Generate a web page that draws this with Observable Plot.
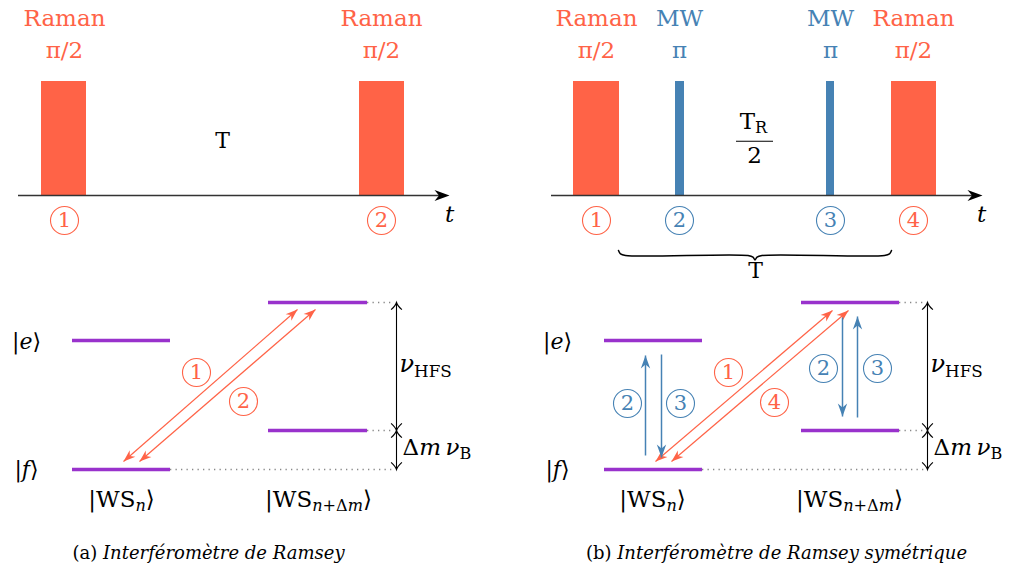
<!DOCTYPE html>
<html><head><meta charset="utf-8">
<script src="https://cdn.jsdelivr.net/npm/d3@7"></script>
<script src="https://cdn.jsdelivr.net/npm/@observablehq/plot@0.6"></script>
<style>body{margin:0;background:#fff} svg{display:block} svg text{font-family:"DejaVu Serif","Liberation Serif","Noto Serif",serif}</style>
</head><body><div id="chart"></div>
<script>
const ORANGE = "#ff6347", BLUE = "#4682b4", PURPLE = "#9932cc";

// ---- top: pulse sequences ----
const timeAxes = [{x1: 18, x2: 449, y: 195}, {x1: 551, x2: 982, y: 195}];
const ramanPulses = [{x1: 41, x2: 86}, {x1: 359, x2: 404}, {x1: 573, x2: 619}, {x1: 891, x2: 936}];
const mwPulses = [{x1: 675, x2: 684}, {x1: 826, x2: 834}];
const pulseTop = 81, pulseBase = 195;
const pulseNames = [
  {x: 64, name: "Raman", area: "π/2", c: ORANGE},
  {x: 381, name: "Raman", area: "π/2", c: ORANGE},
  {x: 596, name: "Raman", area: "π/2", c: ORANGE},
  {x: 679, name: "MW", area: "π", c: BLUE},
  {x: 830, name: "MW", area: "π", c: BLUE},
  {x: 913, name: "Raman", area: "π/2", c: ORANGE}
];
const nameY = 18, areaY = 50;
const steps = [
  {x: 64, y: 220, n: "1", c: ORANGE}, {x: 381, y: 220, n: "2", c: ORANGE},
  {x: 596, y: 220, n: "1", c: ORANGE}, {x: 679, y: 220, n: "2", c: BLUE},
  {x: 830, y: 220, n: "3", c: BLUE}, {x: 913, y: 220, n: "4", c: ORANGE},
  {x: 196, y: 372, n: "1", c: ORANGE}, {x: 243, y: 401, n: "2", c: ORANGE},
  {x: 728, y: 372, n: "1", c: ORANGE}, {x: 774, y: 402, n: "4", c: ORANGE},
  {x: 627, y: 403, n: "2", c: BLUE}, {x: 680, y: 403, n: "3", c: BLUE},
  {x: 823, y: 368, n: "2", c: BLUE}, {x: 877, y: 368, n: "3", c: BLUE}
];
const timeLabels = [
  {x: 222, y: 140, text: "T", size: 22},
  {x: 449, y: 214, text: "*t*", size: 23},
  {x: 981, y: 214, text: "*t*", size: 23},
  {x: 753, y: 121, text: "T_{R}", size: 23},
  {x: 754, y: 155.5, text: "2", size: 23},
  {x: 755, y: 270, text: "T", size: 22}
];
const fractionBars = [{x1: 736, x2: 773, y: 140.7}];
const braces = [{x1: 618, x2: 891, y: 255}];

// ---- bottom: level diagrams ----
const levels = [
  {x1: 72, x2: 170, y: 340}, {x1: 72, x2: 170, y: 469}, {x1: 268, x2: 367, y: 302}, {x1: 268, x2: 367, y: 430},
  {x1: 604, x2: 702, y: 340}, {x1: 604, x2: 702, y: 469}, {x1: 801, x2: 899, y: 302}, {x1: 801, x2: 899, y: 430}
];
const dottedGuides = [
  {x1: 367, x2: 394, y: 302}, {x1: 367, x2: 394, y: 430}, {x1: 170, x2: 394, y: 469},
  {x1: 899, x2: 925, y: 302}, {x1: 899, x2: 925, y: 430}, {x1: 702, x2: 925, y: 469}
];
const gaps = [
  {x: 396, y1: 302, y2: 430}, {x: 396, y1: 430, y2: 469},
  {x: 927, y1: 302, y2: 430}, {x: 927, y1: 430, y2: 469}
];
const ramanArrows = [
  {x1: 123, y1: 461, x2: 297, y2: 309}, {x1: 139, y1: 461, x2: 315, y2: 309},
  {x1: 655, y1: 461, x2: 832, y2: 310}, {x1: 671, y1: 461, x2: 848, y2: 310}
];
const mwArrows = [
  {x1: 645, y1: 455, x2: 645, y2: 355}, {x1: 661, y1: 354, x2: 661, y2: 457},
  {x1: 842, y1: 317, x2: 842, y2: 416}, {x1: 857, y1: 417, x2: 857, y2: 316}
];
const stateLabels = [
  {x: 26, y: 341, text: "|*e*⟩", size: 22},
  {x: 26, y: 469.5, text: "|*f*⟩", size: 22},
  {x: 557, y: 341, text: "|*e*⟩", size: 22},
  {x: 557, y: 469.5, text: "|*f*⟩", size: 22},
  {x: 121, y: 499, text: "|WS_{*n*}⟩", size: 23},
  {x: 318, y: 499, text: "|WS_{*n*+Δ*m*}⟩", size: 23},
  {x: 652, y: 499, text: "|WS_{*n*}⟩", size: 23},
  {x: 849, y: 499, text: "|WS_{*n*+Δ*m*}⟩", size: 23}
];
const gapLabels = [
  {x: 399, y: 364, text: "*ν*_{HFS}", size: 24},
  {x: 402, y: 447, text: "Δ*m\u2009ν*_{B}", size: 23},
  {x: 930, y: 364, text: "*ν*_{HFS}", size: 24},
  {x: 933, y: 447, text: "Δ*m\u2009ν*_{B}", size: 23}
];
const captions = [
  {x: 208, y: 553, text: "(a) *Interféromètre de Ramsey*"},
  {x: 776, y: 553, text: "(b) *Interféromètre de Ramsey symétrique*"}
];

// ---- derived helpers ----
function heads(arrows, both) {
  const out = [];
  for (const a of arrows) {
    const dx = a.x2 - a.x1, dy = a.y2 - a.y1;
    const ang = Math.atan2(dx, -dy) * 180 / Math.PI;
    out.push({x: a.x2, y: a.y2, angle: ang});
    if (both) out.push({x: a.x1, y: a.y1, angle: ang + 180});
  }
  return out;
}
const stealth = {draw(ctx, size) {
  const L = Math.sqrt(size / Math.PI), w = 0.36 * L;
  ctx.moveTo(0, 0); ctx.lineTo(-w, L); ctx.lineTo(0, 0.7 * L); ctx.lineTo(w, L); ctx.closePath();
}};
const toHead = {draw(ctx, size) {
  const L = Math.sqrt(size / Math.PI);
  ctx.moveTo(-0.6 * L, 0.8 * L);
  ctx.quadraticCurveTo(-0.1 * L, 0.35 * L, 0, 0);
  ctx.quadraticCurveTo(0.1 * L, 0.35 * L, 0.6 * L, 0.8 * L);
}};
function bracePoints(b) {
  const m = (b.x1 + b.x2) / 2, y = b.y;
  const left = [[b.x1, y - 5], [b.x1 + 2, y - 1.6], [b.x1 + 7, y], [m - 7, y], [m - 2, y + 1.6], [m, y + 4.5]];
  const right = left.slice(0, -1).reverse().map(([x, yy]) => [2 * m - x, yy]);
  return left.concat(right).map(([x, yy]) => ({x, y: yy}));
}
const axisHeads = timeAxes.map(a => ({x: a.x2, y: a.y, angle: 90}));
const gapHeads = gaps.flatMap(g => [{x: g.x, y: g.y1, angle: 0}, {x: g.x, y: g.y2, angle: 180}]);

const SERIF = "DejaVu Serif";
const chart = Plot.plot({
  width: 1017, height: 575, margin: 0,
  x: {domain: [0, 1017], range: [0, 1017], axis: null},
  y: {domain: [0, 575], range: [0, 575], axis: null},
  color: {type: "identity"},
  style: "background: white; overflow: visible; font-family: 'DejaVu Serif', serif;",
  marks: [
    // pulses
    Plot.rect(ramanPulses, {x1: "x1", x2: "x2", y1: () => pulseTop, y2: () => pulseBase, fill: ORANGE}),
    Plot.rect(mwPulses, {x1: "x1", x2: "x2", y1: () => pulseTop, y2: () => pulseBase, fill: BLUE}),
    Plot.ruleY(timeAxes, {y: "y", x1: "x1", x2: d => d.x2 - 8, stroke: "#333", strokeWidth: 1.6}),
    Plot.dot(axisHeads, {x: "x", y: "y", rotate: "angle", symbol: stealth, r: 15, fill: "black", stroke: "none"}),
    Plot.text(pulseNames, {x: "x", y: () => nameY, text: "name", fill: "c", fontSize: 23, fontFamily: SERIF}),
    Plot.text(pulseNames, {x: "x", y: () => areaY, text: "area", fill: "c", fontSize: 23, fontFamily: SERIF}),
    Plot.text(timeLabels, {x: "x", y: "y", text: "text", fontSize: "size", fill: "black", fontFamily: SERIF}),
    Plot.ruleY(fractionBars, {y: "y", x1: "x1", x2: "x2", stroke: "black", strokeWidth: 1.1}),
    ...braces.map(b => Plot.line(bracePoints(b), {x: "x", y: "y", curve: "catmull-rom", stroke: "black", strokeWidth: 1.5})),
    // level diagrams
    Plot.ruleY(dottedGuides, {y: "y", x1: "x1", x2: "x2", stroke: "#888", strokeWidth: 1.3, strokeDasharray: "1.3,4.2"}),
    Plot.ruleY(levels, {y: "y", x1: "x1", x2: "x2", stroke: PURPLE, strokeWidth: 3.5}),
    Plot.ruleX(gaps, {x: "x", y1: "y1", y2: "y2", stroke: "black", strokeWidth: 1.1}),
    Plot.dot(gapHeads, {x: "x", y: "y", rotate: "angle", symbol: toHead, r: 9, fill: "none", stroke: "black", strokeWidth: 1.1}),
    Plot.link(ramanArrows, {x1: "x1", y1: "y1", x2: "x2", y2: "y2", stroke: ORANGE, strokeWidth: 1.2}),
    Plot.dot(heads(ramanArrows, true), {x: "x", y: "y", rotate: "angle", symbol: stealth, r: 12, fill: ORANGE, stroke: "none"}),
    Plot.link(mwArrows, {x1: "x1", y1: "y1", x2: "x2", y2: "y2", stroke: BLUE, strokeWidth: 1.5}),
    Plot.dot(heads(mwArrows, false), {x: "x", y: "y", rotate: "angle", symbol: stealth, r: 13, fill: BLUE, stroke: "none"}),
    Plot.text(stateLabels, {x: "x", y: "y", text: "text", fontSize: "size", fill: "black", fontFamily: SERIF}),
    Plot.text(gapLabels, {x: "x", y: "y", text: "text", textAnchor: "start", fontSize: "size", fill: "black", fontFamily: SERIF}),
    // step numbers
    Plot.dot(steps, {x: "x", y: "y", r: 14, stroke: "c", fill: "none", strokeWidth: 1.1}),
    Plot.text(steps, {x: "x", y: "y", text: "n", fill: "c", fontSize: 21, fontFamily: SERIF}),
    // captions
    Plot.text(captions, {x: "x", y: "y", text: "text", fontSize: 18, fill: "black", fontFamily: SERIF})
  ]
});
document.getElementById("chart").append(chart);

// rich text: *italic*, _{subscript}
const NS = "http://www.w3.org/2000/svg";
for (const t of chart.querySelectorAll("text")) {
  const s = t.textContent;
  if (!/[*_]/.test(s)) continue;
  const fs = parseFloat(getComputedStyle(t).fontSize) || 22;
  const segs = [];
  let italic = false, sub = false, buf = "";
  const flush = () => { if (buf) segs.push({text: buf, italic, sub}); buf = ""; };
  for (let i = 0; i < s.length; i++) {
    const ch = s[i];
    if (ch === "*") { flush(); italic = !italic; }
    else if (ch === "_" && s[i + 1] === "{") { flush(); sub = true; i++; }
    else if (ch === "}" && sub) { flush(); sub = false; }
    else buf += ch;
  }
  flush();
  t.textContent = "";
  let prevSub = false;
  for (const g of segs) {
    const ts = document.createElementNS(NS, "tspan");
    ts.textContent = g.text;
    if (g.italic) ts.setAttribute("font-style", "italic");
    if (g.sub) ts.setAttribute("font-size", (fs * 0.7).toFixed(1));
    if (g.sub && !prevSub) ts.setAttribute("dy", (fs * 0.2).toFixed(1));
    if (!g.sub && prevSub) ts.setAttribute("dy", (-fs * 0.2).toFixed(1));
    prevSub = g.sub;
    t.appendChild(ts);
  }
}
</script>
</body></html>
